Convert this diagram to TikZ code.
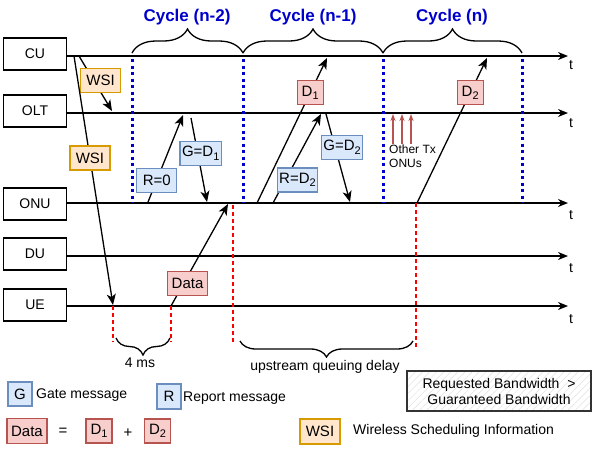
\documentclass[tikz,border=0pt]{standalone}
\usepackage{fontspec}
\setmainfont{Liberation Sans}
\usetikzlibrary{arrows.meta, decorations.pathreplacing, patterns.meta}
\definecolor{gfill}{HTML}{DAE8FC}
\definecolor{gline}{HTML}{6C8EBF}
\definecolor{dfill}{HTML}{F8CECC}
\definecolor{dline}{HTML}{B85450}
\definecolor{wfill}{HTML}{FFE6CC}
\definecolor{wline}{HTML}{D79B00}
\definecolor{cycblue}{HTML}{0000CC}
\newcommand{\lowsub}[1]{\raisebox{-3.5pt}{\fontsize{11}{11}\selectfont #1}}
\tikzset{
    lane/.style={draw,line width=1.6pt,minimum width=63pt,minimum height=32pt,inner sep=0pt},
    axis/.style={draw,line width=1.3pt,-{Stealth[length=10pt,width=8pt]}},
    msg/.style={draw,line width=1.3pt,-{Stealth[length=11pt,width=9pt,inset=3pt]}},
    lbl/.style={line width=1.3pt,minimum height=24pt,minimum width=40pt,inner xsep=2pt,font=\fontsize{15}{15}\selectfont},
    gbox/.style={lbl,draw=gline,fill=gfill},
    dbox/.style={lbl,draw=dline,fill=dfill},
    wbox/.style={lbl,draw=wline,fill=wfill},
    cycline/.style={draw=cycblue,line width=3pt,dash pattern=on 3pt off 3.5pt},
    delay/.style={draw=red,line width=1.3pt,dash pattern=on 4pt off 3pt},
    brc/.style={draw,line width=1.3pt,decorate,decoration={brace,amplitude=#1}},
    cyctxt/.style={text=cycblue,font=\bfseries\fontsize{17}{17}\selectfont},
    tt/.style={inner sep=0pt},
    flow/.style={every edge/.style={msg}},
}
\begin{document}
\begin{tikzpicture}[x=1pt,y=-1pt,font=\fontsize{14}{16}\selectfont]
\useasboundingbox (0,0) rectangle (597,448);
% lanes
\node[lane] (cu)  at (35,54)  {CU};
\node[lane] (olt) at (35,111) {OLT};
\node[lane] (onu) at (35,204) {ONU};
\node[lane] (du)  at (35,254) {DU};
\node[lane] (ue)  at (35,305) {UE};
\coordinate (cuEnd)  at (568,56);
\coordinate (oltEnd) at (568,113);
\coordinate (onuEnd) at (568,203);
\coordinate (duEnd)  at (568,256);
\coordinate (ueEnd)  at (568,306);
\draw[axis] (cu.east |- cuEnd) -- (cuEnd);
\draw[axis] (olt.east |- oltEnd) -- (oltEnd);
\draw[axis] (onu.east |- onuEnd) -- (onuEnd);
\draw[axis] (du.east |- duEnd) -- (duEnd);
\draw[axis] (ue.east |- ueEnd) -- (ueEnd);
\node[tt] (cuT)  at (571,65)  {t};
\node[tt] (oltT) at (571,123) {t};
\node[tt] (onuT) at (571,215) {t};
\node[tt] (duT)  at (571,268) {t};
\node[tt] (ueT)  at (571,319) {t};

% cycles
\draw[cycline] (132,59) -- (132,203);
\draw[cycline] (243,59) -- (243,203);
\draw[cycline] (383,59) -- (383,203);
\draw[cycline] (522,59) -- (522,203);
\draw[brc=24] (132,53) -- (243,53);
\draw[brc=24] (243,53) -- (383,53);
\draw[brc=24] (383,53) -- (522,53);
\node[cyctxt] (cyc2) at (187,17) {Cycle (n-2)};
\node[cyctxt] (cyc1) at (313,17) {Cycle (n-1)};
\node[cyctxt] (cyc0) at (452,17) {Cycle (n)};

% message end points
\coordinate (wsiS1) at (79,56);   \coordinate (wsiE1) at (112,111);
\coordinate (wsiS2) at (74,56);   \coordinate (wsiE2) at (113,305);
\coordinate (repS1) at (148,202); \coordinate (repE1) at (183,115);
\coordinate (gatS1) at (191,118); \coordinate (gatE1) at (207,202);
\coordinate (datS)  at (171,306); \coordinate (datE)  at (228,204);
\coordinate (d1S)   at (257,203); \coordinate (d1E)   at (327,58);
\coordinate (repS2) at (273,203); \coordinate (repE2) at (321,114);
\coordinate (gatS2) at (326,114); \coordinate (gatE2) at (350,202);
\coordinate (d2S)   at (417,203); \coordinate (d2E)   at (487,58);

\path[flow]
    (wsiS1) edge node[wbox,pos=.44,xshift=7pt] {WSI} (wsiE1)
    (wsiS2) edge node[wbox,pos=.41] {WSI} (wsiE2)
    (repS1) edge node[gbox,pos=.25] {R=0} (repE1)
    (gatS1) edge node[gbox,pos=.42,xshift=3pt] {G=D\lowsub{1}} (gatE1)
    (datS)  edge node[dbox,pos=.22,xshift=4pt] {Data} (datE)
    (d1S)   edge node[dbox,pos=.76,minimum width=26pt] {D\lowsub{1}} (d1E)
    (repS2) edge node[gbox,pos=.26,xshift=12pt] {R=D\lowsub{2}} (repE2)
    (gatS2) edge node[gbox,pos=.38,xshift=7pt] {G=D\lowsub{2}} (gatE2)
    (d2S)   edge node[dbox,pos=.76,minimum width=26pt] {D\lowsub{2}} (d2E)
;

% other ONUs
\coordinate (oS1) at (393,144); \coordinate (oE1) at (393,114);
\coordinate (oS2) at (402,144); \coordinate (oE2) at (402,114);
\coordinate (oS3) at (411,144); \coordinate (oE3) at (411,114);
\path[every edge/.style={draw=dline,line width=1.3pt,-{Stealth[length=7pt,width=5pt]}}]
    (oS1) edge (oE1)
    (oS2) edge (oE2)
    (oS3) edge (oE3);
\node[tt,anchor=north west,align=left,font=\fontsize{12}{14}\selectfont] (otx) at (389,145) {Other Tx\\ONUs};

% delays
\draw[delay] (113,306) -- (113,342);
\draw[delay] (171,306) -- (171,342);
\draw[delay] (233,205) -- (233,344);
\draw[delay] (416,203) -- (416,347);
\draw[brc=17] (170,338) -- (116,338);
\draw[brc=16] (413,341) -- (240,341);
\node (ms) at (140,363) {4 ms};
\node (uqd) at (325,367) {upstream queuing delay};

% legend
\node[gbox,minimum width=24pt] (lg) at (20,394) {G};
\node[tt,anchor=west] (lgt) at (36,395) {Gate message};
\node[gbox,minimum width=24pt,minimum height=25pt] (lr) at (169,396.5) {R};
\node[tt,anchor=west] (lrt) at (183,398) {Report message};
\node[dbox,minimum height=25pt] (ld) at (27,431) {Data};
\node[tt,font=\fontsize{15}{15}\selectfont] (leq) at (63,432) {=};
\node[dbox,minimum width=26pt] (ld1) at (99,431) {D\lowsub{1}};
\node[tt,font=\fontsize{15}{15}\selectfont] (lplus) at (128,433) {+};
\node[dbox,minimum width=26pt] (ld2) at (157.5,431) {D\lowsub{2}};
\node[wbox,minimum height=25pt] (lw) at (320,431.5) {WSI};
\node[tt,anchor=west] (lwt) at (353,431) {Wireless Scheduling Information};
\node[draw=black!80,line width=1.3pt,minimum width=184pt,minimum height=40pt,align=center,
      pattern={Lines[angle=45,distance=5pt,line width=0.5pt]},pattern color=black!12] (req) at (499,391) {};
\node[align=center] (reqt) at (499,391) {Requested Bandwidth\ \ >\\Guaranteed Bandwidth};
\end{tikzpicture}
\end{document}
